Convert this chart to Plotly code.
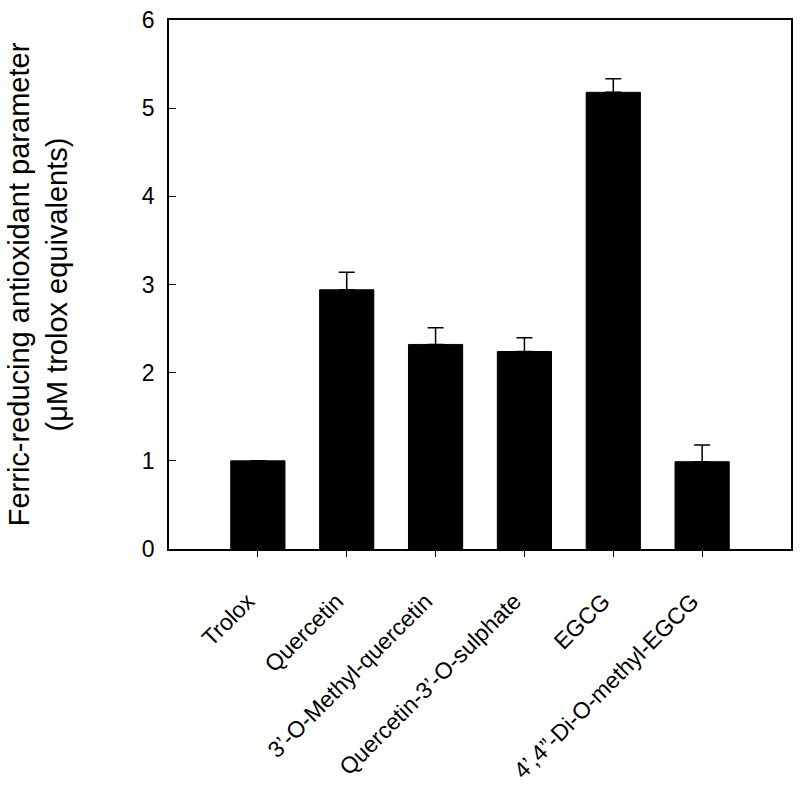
import plotly.graph_objects as go

categories = ["Trolox", "Quercetin", "3\u2019-O-Methyl-quercetin", "Quercetin-3\u2019-O-sulphate",
              "EGCG", "4\u2019,4\u201d-Di-O-methyl-EGCG"]
values = [1.0, 2.94, 2.32, 2.24, 5.18, 0.99]
errors = [0.0, 0.20, 0.19, 0.155, 0.155, 0.19]
y_ticks = [0, 1, 2, 3, 4, 5, 6]

idx = list(range(len(categories)))

fig = go.Figure()
fig.add_trace(go.Bar(
    x=idx, y=values, width=0.61,
    marker=dict(color="black", line=dict(color="black", width=1)),
    error_y=dict(type="data", array=errors, arrayminus=[0] * len(errors), symmetric=False,
                 color="black", thickness=1.5, width=8),
))

font = "Liberation Sans, Arial, sans-serif"
fig.update_layout(
    width=800, height=796,
    margin=dict(l=169, r=7, t=16, b=247),
    paper_bgcolor="white", plot_bgcolor="white",
    showlegend=False,
    font=dict(family=font, color="black"),
    xaxis=dict(
        range=[-1, 6], tickmode="array", tickvals=idx, ticktext=categories,
        tickangle=-45, tickfont=dict(size=23, family=font),
        ticks="outside", ticklen=6, tickwidth=1.2, tickcolor="black",
        showline=True, linecolor="black", linewidth=1.5, mirror=True,
        showgrid=False, zeroline=False, ticklabelstandoff=22, ticklabelshift=-10,
    ),
    yaxis=dict(
        range=[0, 6], tickmode="array", tickvals=y_ticks, ticktext=[str(t) for t in y_ticks],
        tickfont=dict(size=23, family=font),
        ticks="inside", ticklen=7, tickwidth=1.2, tickcolor="black",
        showline=True, linecolor="black", linewidth=1.5, mirror=True,
        showgrid=False, zeroline=False, ticklabelstandoff=8, ticklabeloverflow="allow",
        title=dict(text="Ferric-reducing antioxidant parameter<br>(\u03bcM trolox equivalents)",
                   font=dict(size=29, family=font), standoff=66),
    ),
)

fig.write_html("out.html",
               config={"displayModeBar": False},
               post_script="document.body.style.margin='0';document.body.style.overflow='hidden';")
